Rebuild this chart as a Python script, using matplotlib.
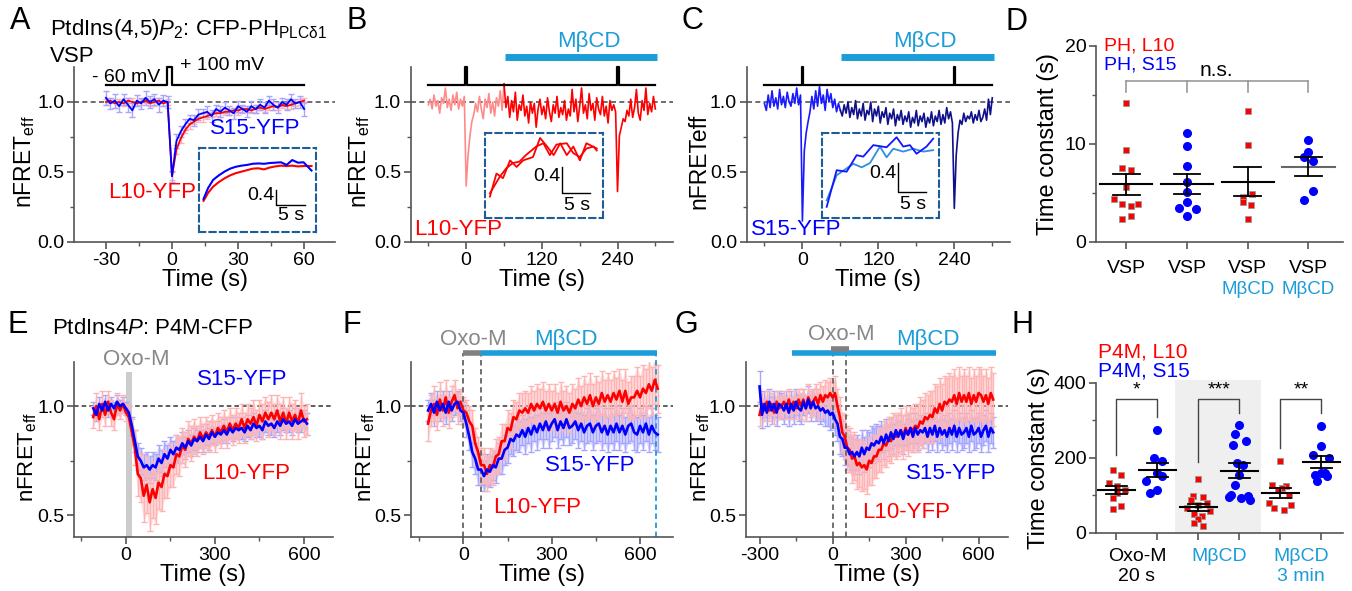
import numpy as np
import matplotlib
matplotlib.use('Agg')
import matplotlib.pyplot as plt

plt.rcParams['font.family'] = ['Liberation Sans', 'DejaVu Sans']
plt.rcParams['mathtext.fontset'] = 'custom'
plt.rcParams['mathtext.rm'] = 'Liberation Sans'
plt.rcParams['mathtext.it'] = 'Liberation Sans:italic'
plt.rcParams['axes.unicode_minus'] = False

RED, BLUE = '#ff0000', '#0000ff'
LRED, LBLUE = '#ffb3b3', '#a6a6ff'
MBCD = '#1b9dd9'
GRAY = '#888888'
AX = '#555555'
BOXC = '#1f5d96'

# ---- panel A: VSP, mean traces (2 s samples from -30 s)
a_blue = [1.03, 0.99, 1.01, 0.97, 1.02, 0.98, 0.94, 1.01, 0.99, 1.03,
          1.00, 1.02, 0.98, 1.01, 1.00, 0.47, 0.72, 0.79, 0.84, 0.88,
          0.87, 0.91, 0.92, 0.93, 0.90, 0.95, 0.93, 0.96, 0.94, 0.92,
          0.97, 0.95, 0.93, 0.97, 0.95, 0.98, 0.96, 1.01, 0.98, 0.96,
          1.00, 0.98, 1.02, 0.99, 1.00, 0.95]
a_blue_sem = [0.05, 0.04, 0.05, 0.04, 0.04, 0.05, 0.05, 0.04, 0.04, 0.05,
              0.04, 0.04, 0.05, 0.04, 0.04, 0.04, 0.05, 0.04, 0.04, 0.03,
              0.04, 0.04, 0.03, 0.04, 0.04, 0.03, 0.04, 0.04, 0.03, 0.04,
              0.04, 0.03, 0.04, 0.04, 0.03, 0.04, 0.04, 0.03, 0.04, 0.04,
              0.03, 0.04, 0.04, 0.03, 0.04, 0.05]
a_red = [1.00, 1.01, 0.99, 1.00, 0.99, 1.01, 1.00, 0.99, 1.00, 1.01,
         0.99, 1.00, 1.01, 0.99, 1.00, 0.47, 0.66, 0.74, 0.80, 0.84,
         0.86, 0.88, 0.89, 0.90, 0.91, 0.92, 0.92, 0.93, 0.93, 0.94,
         0.94, 0.95, 0.95, 0.94, 0.95, 0.96, 0.95, 0.96, 0.97, 0.96,
         0.98, 0.97, 0.98, 0.99, 1.00, 1.01]
a_red_sem = [0.02, 0.02, 0.03, 0.02, 0.02, 0.02, 0.03, 0.02, 0.02, 0.02,
             0.02, 0.03, 0.02, 0.02, 0.02, 0.03, 0.03, 0.03, 0.02, 0.03,
             0.02, 0.02, 0.03, 0.02, 0.02, 0.02, 0.03, 0.02, 0.02, 0.02,
             0.03, 0.02, 0.02, 0.02, 0.03, 0.02, 0.02, 0.02, 0.03, 0.02,
             0.02, 0.02, 0.03, 0.02, 0.02, 0.02]
insA_t = [0.8, 1.6, 2.5, 3.5, 4.5, 5.5, 6.5, 7.5, 8.5, 9.5,
          10.5, 11.5, 12.5, 13.5, 14.5, 15.5, 16.5, 17.5, 18.5, 19.9]
insA_blue = [0.89, 1.18, 1.40, 1.52, 1.62, 1.70, 1.75, 1.78, 1.80, 1.83,
             1.84, 1.83, 1.85, 1.86, 1.87, 1.80, 1.93, 1.86, 1.87, 1.65]
insA_red = [0.84, 1.05, 1.22, 1.34, 1.44, 1.52, 1.58, 1.62, 1.66, 1.70,
            1.71, 1.68, 1.73, 1.76, 1.78, 1.77, 1.78, 1.76, 1.77, 1.77]

# ---- panels B, C: single cells (3 s samples from -60 s)
b_red = [0.98, 1.02, 0.95, 1.05, 0.97, 1.01, 0.92, 1.03, 0.99, 1.10,
         0.96, 1.02, 0.94, 1.05, 0.98, 1.07, 0.95, 1.02, 0.97, 1.04,
         0.40, 0.62, 0.76, 0.86, 0.91, 0.99, 0.93, 1.04, 0.95, 0.88,
         1.02, 0.96, 1.06, 0.92, 1.00, 0.90, 1.03, 0.97, 1.08, 0.94,
         1.13, 0.96, 1.04, 0.89, 1.01, 0.93, 1.07, 0.87, 0.98, 0.94,
         1.05, 0.90, 0.97, 0.85, 1.00, 0.92, 0.99, 0.82, 0.95, 1.02,
         0.91, 0.97, 0.88, 1.03, 0.93, 0.86, 0.98, 0.92, 1.04, 0.89,
         0.96, 0.91, 1.01, 0.87, 0.95, 0.90, 1.09, 0.93, 1.02, 0.86,
         0.97, 1.10, 0.92, 0.98, 0.88, 1.06, 0.94, 0.99, 0.87, 1.03,
         0.95, 0.91, 1.04, 0.90, 0.97, 0.85, 1.01, 0.94, 0.98, 0.93,
         0.36, 0.76, 0.82, 0.88, 0.86, 0.94, 0.90, 1.02, 0.89, 0.96,
         1.09, 0.92, 0.87, 1.01, 0.94, 1.10, 0.91, 0.99, 0.93, 1.04,
         0.95]
c_blue = [0.99, 0.94, 1.05, 0.96, 1.08, 0.97, 1.03, 0.95, 1.09, 0.98,
          1.04, 0.96, 1.07, 1.00, 0.97, 1.06, 0.99, 1.10, 0.98, 1.05,
          0.15, 0.65, 0.78, 0.86, 0.93, 1.04, 0.95, 1.08, 0.97, 1.11,
          0.99, 1.05, 0.94, 1.09, 1.00, 1.06, 0.96, 1.02, 0.93, 0.99,
          0.94, 0.90, 0.98, 0.92, 1.00, 0.89, 0.96, 0.91, 1.01, 0.88,
          0.95, 0.90, 0.99, 0.87, 0.94, 0.91, 1.00, 0.86, 0.95, 0.90,
          0.97, 0.85, 0.93, 0.89, 0.96, 0.84, 0.92, 0.88, 0.95, 0.83,
          0.91, 0.87, 0.94, 0.84, 0.90, 0.86, 0.93, 0.82, 0.89, 0.85,
          0.94, 0.83, 0.90, 0.86, 0.92, 0.82, 0.89, 0.85, 0.93, 0.83,
          0.90, 0.86, 0.94, 0.84, 0.91, 0.85, 0.96, 0.88, 0.93, 0.85,
          0.24, 0.62, 0.78, 0.87, 0.84, 0.92, 0.86, 0.90, 0.88, 0.93,
          0.85, 0.91, 0.87, 0.94, 0.86, 0.89, 0.95, 0.87, 1.02, 0.91,
          1.03]
mbcd_on = 60
insB_t1 = [0.9, 2.1, 3.3, 4.6, 5.8, 7.0, 8.8, 10.1, 11.4, 12.6, 13.8, 15.0, 16.2, 17.4, 18.6, 20.5]
insB_v1 = [0.32, 0.67, 0.60, 0.87, 0.77, 0.87, 0.92, 1.21, 1.08, 0.95, 1.13, 0.95, 1.08, 0.87, 1.13, 1.05]
insB_t2 = [0.9, 2.7, 3.9, 5.1, 6.3, 7.5, 9.4, 10.7, 11.9, 13.1, 15.0, 16.2, 17.4, 18.6, 19.9, 20.5]
insB_v2 = [0.37, 0.62, 0.75, 0.83, 0.85, 0.95, 1.08, 1.13, 0.95, 1.11, 1.13, 0.98, 0.92, 1.05, 1.08, 1.02]
insC_t1 = [0.9, 2.7, 4.5, 6.3, 7.5, 9.3, 11.7, 13.5, 14.7, 15.9, 17.1, 18.9, 20.1]
insC_v1 = [0.16, 0.67, 0.65, 0.88, 0.86, 1.02, 0.99, 1.13, 1.00, 1.02, 0.90, 1.00, 1.11]
insC_t2 = [0.9, 2.7, 5.7, 7.2, 8.7, 10.5, 11.7, 12.9, 14.7, 16.5, 18.3, 20.1]
insC_v2 = [0.25, 0.60, 0.76, 0.71, 0.77, 1.00, 0.85, 0.97, 0.93, 0.97, 0.93, 0.95]

# ---- panel D: time constants (s)
d_groups = ['VSP', 'VSP', 'VSP', 'VSP']
d_vals = [[14.2, 9.4, 7.5, 7.3, 5.6, 4.4, 3.9, 3.6, 3.9, 2.6, 2.3],
          [11.1, 9.8, 7.7, 6.1, 5.1, 4.1, 3.4, 3.3, 2.6],
          [13.4, 9.9, 4.9, 4.6, 4.1, 3.7, 2.3],
          [10.4, 9.2, 8.7, 8.2, 5.2, 4.3]]
d_is_l10 = [True, False, True, False]

# ---- panel E: Oxo-M (10 s samples from -110 s)
e_red = [0.95, 1.00, 0.94, 1.01, 0.96, 1.02, 0.97, 0.94, 1.01, 0.98,
         1.01, 0.97, 0.95, 0.88, 0.81, 0.69, 0.67, 0.59, 0.64, 0.56,
         0.62, 0.58, 0.65, 0.63, 0.69, 0.68, 0.73, 0.72, 0.78, 0.77,
         0.82, 0.80, 0.85, 0.83, 0.86, 0.84, 0.88, 0.85, 0.88, 0.86,
         0.89, 0.86, 0.90, 0.88, 0.91, 0.88, 0.92, 0.89, 0.92, 0.90,
         0.94, 0.90, 0.94, 0.92, 0.95, 0.91, 0.96, 0.93, 0.97, 0.94,
         0.97, 0.94, 0.98, 0.93, 0.97, 0.92, 0.97, 0.93, 0.96, 0.92,
         0.98, 0.93, 0.94]
e_red_sem = [0.05, 0.06, 0.05, 0.06, 0.05, 0.05, 0.06, 0.05, 0.05, 0.04,
             0.04, 0.04, 0.05, 0.06, 0.08, 0.10, 0.11, 0.12, 0.13, 0.13,
             0.13, 0.12, 0.12, 0.11, 0.11, 0.10, 0.10, 0.09, 0.09, 0.09,
             0.08, 0.08, 0.08, 0.08, 0.08, 0.07, 0.07, 0.07, 0.07, 0.07,
             0.07, 0.07, 0.07, 0.07, 0.07, 0.07, 0.07, 0.07, 0.07, 0.07,
             0.07, 0.07, 0.07, 0.07, 0.08, 0.07, 0.07, 0.08, 0.07, 0.08,
             0.08, 0.07, 0.07, 0.08, 0.07, 0.07, 0.07, 0.08, 0.07, 0.07,
             0.08, 0.07, 0.07]
e_blue = [0.99, 0.96, 1.01, 0.98, 1.02, 0.98, 1.01, 0.99, 1.02, 1.00,
          1.01, 0.99, 0.97, 0.91, 0.84, 0.77, 0.75, 0.72, 0.73, 0.71,
          0.73, 0.72, 0.76, 0.74, 0.78, 0.76, 0.80, 0.78, 0.81, 0.80,
          0.83, 0.81, 0.84, 0.82, 0.85, 0.84, 0.86, 0.84, 0.87, 0.85,
          0.88, 0.86, 0.88, 0.87, 0.89, 0.87, 0.90, 0.88, 0.90, 0.89,
          0.90, 0.88, 0.91, 0.89, 0.92, 0.90, 0.91, 0.89, 0.93, 0.91,
          0.92, 0.90, 0.93, 0.91, 0.94, 0.92, 0.93, 0.91, 0.94, 0.92,
          0.93, 0.94, 0.92]
e_blue_sem = [0.03, 0.03, 0.03, 0.03, 0.03, 0.03, 0.03, 0.03, 0.03, 0.03,
              0.03, 0.03, 0.03, 0.04, 0.05, 0.06, 0.06, 0.06, 0.06, 0.06,
              0.06, 0.06, 0.06, 0.06, 0.06, 0.06, 0.06, 0.06, 0.06, 0.06,
              0.05, 0.05, 0.05, 0.05, 0.05, 0.05, 0.05, 0.05, 0.05, 0.05,
              0.05, 0.04, 0.05, 0.04, 0.05, 0.04, 0.05, 0.04, 0.05, 0.04,
              0.05, 0.04, 0.05, 0.04, 0.05, 0.04, 0.05, 0.04, 0.05, 0.04,
              0.05, 0.04, 0.05, 0.04, 0.05, 0.04, 0.05, 0.04, 0.05, 0.04,
              0.05, 0.04, 0.05]

# ---- panel F: Oxo-M then MbCD (10 s samples from -120 s)
f_red = [0.92, 0.98, 1.01, 0.96, 1.03, 0.98, 1.04, 0.97, 1.02, 1.05,
         0.99, 1.02, 0.98, 0.97, 0.93, 0.91, 0.83, 0.79, 0.73, 0.73,
         0.69, 0.73, 0.72, 0.77, 0.78, 0.84, 0.84, 0.90, 0.89, 0.95,
         0.94, 0.98, 0.97, 0.99, 0.97, 1.01, 0.98, 1.01, 0.99, 1.02,
         0.98, 1.01, 0.98, 1.01, 0.97, 1.02, 0.98, 1.00, 0.97, 1.01,
         0.99, 1.03, 1.00, 1.04, 1.01, 1.05, 1.00, 1.04, 1.01, 1.06,
         1.02, 1.05, 1.02, 1.06, 1.03, 1.07, 1.02, 1.07, 1.01, 1.04,
         1.04, 1.07, 1.04, 1.08, 1.06, 1.10, 1.07, 1.12, 1.08]
f_red_sem = [0.08, 0.07, 0.08, 0.07, 0.08, 0.07, 0.08, 0.07, 0.07, 0.07,
             0.07, 0.06, 0.06, 0.06, 0.07, 0.07, 0.07, 0.07, 0.08, 0.08,
             0.08, 0.08, 0.08, 0.08, 0.08, 0.08, 0.08, 0.08, 0.08, 0.08,
             0.08, 0.08, 0.09, 0.08, 0.09, 0.08, 0.09, 0.09, 0.09, 0.09,
             0.09, 0.09, 0.09, 0.09, 0.09, 0.09, 0.09, 0.09, 0.09, 0.09,
             0.09, 0.10, 0.09, 0.10, 0.09, 0.10, 0.10, 0.10, 0.10, 0.10,
             0.10, 0.10, 0.10, 0.10, 0.10, 0.10, 0.10, 0.10, 0.10, 0.10,
             0.10, 0.11, 0.10, 0.11, 0.11, 0.11, 0.11, 0.11, 0.11]
f_blue = [0.98, 1.01, 0.97, 1.02, 0.98, 1.01, 0.97, 1.02, 0.98, 1.01,
          1.02, 0.98, 0.97, 0.92, 0.86, 0.79, 0.76, 0.71, 0.71, 0.68,
          0.71, 0.70, 0.73, 0.72, 0.76, 0.76, 0.80, 0.81, 0.85, 0.84,
          0.87, 0.86, 0.89, 0.86, 0.90, 0.87, 0.91, 0.88, 0.92, 0.89,
          0.93, 0.89, 0.92, 0.94, 0.89, 0.93, 0.90, 0.94, 0.90, 0.91,
          0.93, 0.89, 0.92, 0.88, 0.91, 0.92, 0.88, 0.91, 0.92, 0.88,
          0.91, 0.87, 0.91, 0.88, 0.92, 0.88, 0.91, 0.87, 0.91, 0.92,
          0.88, 0.87, 0.91, 0.88, 0.92, 0.87, 0.91, 0.88, 0.87]
f_blue_sem = [0.05, 0.05, 0.06, 0.05, 0.05, 0.06, 0.05, 0.05, 0.05, 0.05,
              0.05, 0.05, 0.05, 0.06, 0.06, 0.07, 0.07, 0.07, 0.07, 0.07,
              0.07, 0.07, 0.07, 0.07, 0.07, 0.07, 0.07, 0.07, 0.07, 0.07,
              0.07, 0.07, 0.07, 0.08, 0.07, 0.08, 0.07, 0.08, 0.07, 0.08,
              0.08, 0.08, 0.08, 0.08, 0.08, 0.08, 0.08, 0.08, 0.08, 0.08,
              0.08, 0.08, 0.08, 0.08, 0.08, 0.08, 0.08, 0.08, 0.08, 0.08,
              0.08, 0.08, 0.08, 0.08, 0.08, 0.08, 0.08, 0.08, 0.08, 0.08,
              0.08, 0.08, 0.08, 0.08, 0.08, 0.08, 0.08, 0.08, 0.08]

# ---- panel G: MbCD 3 min before Oxo-M (10 s samples from -300 s)
g_red = [0.96, 1.01, 0.98, 1.02, 0.98, 1.01, 0.97, 1.02, 0.99, 1.00,
         1.02, 0.99, 1.03, 0.99, 1.02, 0.99, 1.03, 1.00, 1.03, 0.99,
         1.04, 1.01, 1.02, 1.04, 1.01, 1.05, 1.02, 1.05, 1.04, 1.06,
         1.04, 1.06, 1.00, 0.95, 0.88, 0.86, 0.81, 0.80, 0.76, 0.77,
         0.73, 0.74, 0.72, 0.73, 0.71, 0.75, 0.74, 0.77, 0.77, 0.80,
         0.80, 0.83, 0.82, 0.85, 0.84, 0.87, 0.86, 0.87, 0.89, 0.86,
         0.90, 0.87, 0.90, 0.89, 0.91, 0.90, 0.93, 0.92, 0.95, 0.94,
         0.96, 0.95, 0.99, 0.97, 1.01, 0.98, 1.02, 1.01, 1.03, 1.02,
         1.05, 1.01, 1.06, 1.02, 1.05, 1.02, 1.06, 1.01, 1.05, 1.02,
         1.06, 1.05, 1.02, 1.05, 1.01, 1.06, 1.03]
g_red_sem = [0.05, 0.05, 0.05, 0.05, 0.05, 0.05, 0.05, 0.05, 0.05, 0.05,
             0.05, 0.05, 0.05, 0.05, 0.05, 0.05, 0.05, 0.06, 0.05, 0.06,
             0.06, 0.06, 0.06, 0.06, 0.07, 0.06, 0.07, 0.07, 0.07, 0.07,
             0.07, 0.08, 0.08, 0.09, 0.09, 0.10, 0.10, 0.10, 0.11, 0.11,
             0.11, 0.11, 0.11, 0.11, 0.11, 0.11, 0.10, 0.10, 0.10, 0.10,
             0.10, 0.10, 0.10, 0.10, 0.10, 0.10, 0.10, 0.10, 0.10, 0.10,
             0.10, 0.10, 0.10, 0.10, 0.10, 0.11, 0.11, 0.11, 0.11, 0.11,
             0.11, 0.12, 0.11, 0.12, 0.12, 0.12, 0.12, 0.12, 0.12, 0.12,
             0.12, 0.12, 0.12, 0.12, 0.12, 0.12, 0.12, 0.12, 0.12, 0.12,
             0.12, 0.12, 0.12, 0.12, 0.12, 0.12, 0.12]
g_blue = [1.09, 0.96, 1.01, 0.97, 1.02, 0.98, 1.01, 0.97, 1.01, 1.00,
          0.98, 1.01, 0.97, 1.01, 0.98, 1.02, 0.99, 0.98, 1.02, 0.99,
          1.03, 0.99, 1.02, 0.99, 1.00, 0.98, 0.99, 0.97, 0.98, 0.96,
          0.97, 0.94, 0.92, 0.86, 0.85, 0.81, 0.81, 0.78, 0.79, 0.77,
          0.79, 0.77, 0.81, 0.78, 0.81, 0.80, 0.83, 0.82, 0.84, 0.83,
          0.86, 0.83, 0.87, 0.84, 0.88, 0.85, 0.89, 0.86, 0.89, 0.85,
          0.89, 0.87, 0.90, 0.86, 0.90, 0.87, 0.89, 0.88, 0.90, 0.86,
          0.90, 0.87, 0.91, 0.86, 0.90, 0.87, 0.89, 0.86, 0.90, 0.87,
          0.91, 0.86, 0.90, 0.87, 0.88, 0.90, 0.86, 0.91, 0.87, 0.88,
          0.90, 0.86, 0.89, 0.91, 0.86, 0.90, 0.88]
g_blue_sem = [0.07, 0.06, 0.06, 0.06, 0.06, 0.06, 0.06, 0.06, 0.06, 0.06,
              0.06, 0.06, 0.06, 0.06, 0.06, 0.06, 0.06, 0.06, 0.06, 0.06,
              0.06, 0.06, 0.06, 0.06, 0.06, 0.06, 0.06, 0.06, 0.07, 0.07,
              0.07, 0.07, 0.08, 0.08, 0.08, 0.08, 0.08, 0.08, 0.08, 0.08,
              0.08, 0.08, 0.08, 0.08, 0.08, 0.08, 0.08, 0.08, 0.08, 0.08,
              0.07, 0.07, 0.07, 0.07, 0.07, 0.07, 0.07, 0.07, 0.07, 0.07,
              0.07, 0.07, 0.07, 0.07, 0.07, 0.07, 0.07, 0.07, 0.07, 0.07,
              0.07, 0.07, 0.07, 0.07, 0.07, 0.07, 0.07, 0.07, 0.07, 0.07,
              0.07, 0.07, 0.07, 0.07, 0.07, 0.07, 0.07, 0.07, 0.07, 0.07,
              0.07, 0.07, 0.07, 0.07, 0.07, 0.07, 0.07]

# ---- panel H: time constants (s)
h_vals = [[167, 153, 133, 125, 115, 105, 92, 71, 62],
          [274, 198, 190, 160, 150, 138, 115, 107],
          [144, 98, 96, 88, 80, 74, 66, 58, 50, 45, 36, 27, 19],
          [287, 264, 245, 234, 187, 180, 154, 128, 100, 98, 96, 92, 88],
          [190, 128, 124, 120, 114, 100, 80, 75, 66, 60],
          [285, 232, 208, 198, 160, 155, 150, 138, 160]]
h_stars = ['*', '***', '**']
h_conditions = ['Oxo-M\n20 s', 'M\u03b2CD', 'M\u03b2CD\n3 min']

# point scatter offsets within a group (layout only)
jit_D = [[0, 0, -0.07, 0.07, 0, -0.21, -0.07, 0.07, 0.19, 0.07, -0.07],
         [0, 0, 0, 0, 0, 0, -0.14, 0.14, 0],
         [0, 0, 0.07, -0.07, -0.08, 0.055, 0],
         [0, 0, -0.07, 0.07, 0.07, -0.07]]
jit_H = [[-0.08, 0.11, -0.18, 0.02, 0.2, 0.02, -0.08, 0.11, -0.08],
         [0, -0.09, 0.1, 0, 0.1, -0.27, 0, -0.19],
         [0, -0.12, 0.1, -0.17, 0.2, 0, -0.28, 0.28, -0.1, 0.08, 0, -0.1, 0.1],
         [0, -0.1, 0.15, -0.15, -0.05, 0.1, 0, -0.1, -0.2, 0.2, -0.25, 0.05, 0.25],
         [0, -0.2, 0.15, 0.05, -0.05, 0.2, -0.27, 0.27, -0.15, 0.1],
         [0, 0, -0.2, 0.2, 0, -0.15, 0.15, -0.1, 0.1]]

W, H = 1352, 591
fig = plt.figure(figsize=(W / 100, H / 100), dpi=100)


def box(l, t, r, b):
    return fig.add_axes([l / W, 1 - b / H, (r - l) / W, (b - t) / H])


def ftext(x, y, s, **kw):
    kw.setdefault('ha', 'center')
    kw.setdefault('va', 'center')
    fig.text(x / W, 1 - y / H, s, **kw)


def style(ax):
    for s in ['top', 'right']:
        ax.spines[s].set_visible(False)
    for s in ['left', 'bottom']:
        ax.spines[s].set_color(AX)
        ax.spines[s].set_linewidth(1.2)
    ax.tick_params(which='both', direction='out', color=AX, labelsize=14)
    ax.tick_params(which='major', length=5, width=1.2, pad=2)
    ax.tick_params(which='minor', length=3, width=1)
    ax.patch.set_alpha(0)


def ylab(ax, text, xpx, l, r, yfrac=0.5, size=17):
    ax.set_ylabel(text, fontsize=size)
    ax.yaxis.set_label_coords((xpx - l) / (r - l), yfrac)


def yfmt(ax, ticks, fmt, minor):
    ax.set_yticks(ticks)
    ax.set_yticklabels([fmt % v for v in ticks])
    ax.set_yticks(minor, minor=True)


def protocol(ax, t0, t1, onsets, width, base, top):
    xs, ys = [t0], [base]
    for o in onsets:
        xs += [o, o, o + width, o + width]
        ys += [base, top, top, base]
    xs.append(t1)
    ys.append(base)
    ax.plot(xs, ys, color='k', lw=1.6, clip_on=False, zorder=5)


def inset(l, t, r, b, xmax, ymax, sx, sy):
    ax = box(l, t, r, b)
    ax.set_xlim(0, xmax)
    ax.set_ylim(0, ymax)
    ax.set_xticks([])
    ax.set_yticks([])
    ax.patch.set_alpha(0)
    for s in ax.spines.values():
        s.set_linestyle((0, (3, 2)))
        s.set_color(BOXC)
        s.set_linewidth(1.5)
    ax.plot([sx, sx, sx + 5], [sy + 0.4, sy, sy], color='k', lw=1)
    ax.text(sx - 0.3, sy + 0.25, '0.4', ha='right', va='center', fontsize=14)
    ax.text(sx + 2.6, sy - 0.06, '5 s', ha='center', va='top', fontsize=14)
    return ax


def trace(ax, t, red, red_sem, blue, blue_sem):
    t = np.asarray(t)
    for y, e, c in [(blue, blue_sem, LBLUE), (red, red_sem, LRED)]:
        y, e = np.asarray(y), np.asarray(e)
        ax.fill_between(t, y - e, y + e, color=c, alpha=0.45, lw=0, zorder=1)
        ax.errorbar(t, y, yerr=e, fmt='none', ecolor=c, elinewidth=1,
                    capsize=2, capthick=1, zorder=1)
    ax.plot(t, red, color=RED, lw=1.9, zorder=3)
    ax.plot(t, blue, color=BLUE, lw=1.9, zorder=4)


# ================= A
axA = box(74, 67, 335, 242)
style(axA)
tA = -30 + 2 * np.arange(len(a_blue))
axA.set_xlim(-44.5, 74)
axA.set_ylim(0, 1.25)
axA.set_xticks([-30, 0, 30, 60])
axA.set_xticks([-15, 15, 45], minor=True)
yfmt(axA, [0, 0.5, 1.0], '%.1f', [0.25, 0.75])
axA.axhline(1.0, ls=(0, (3, 2)), color=AX, lw=1.2, zorder=0)
axA.errorbar(tA, a_red, yerr=a_red_sem, color=RED, ecolor=LRED, lw=1.3, elinewidth=1, capsize=2)
axA.errorbar(tA, a_blue, yerr=a_blue_sem, color=BLUE, ecolor=LBLUE, lw=1.3, elinewidth=1, capsize=2)
protocol(axA, -30, 60, [-2.4], 2.3, 1.12, 1.25)
axA.set_xlabel('Time (s)', fontsize=17, labelpad=0)
ylab(axA, 'nFRET$_{\\mathrm{eff}}$', 37, 74, 335, 0.46, 16.5)
axA.text(37.7, 0.814, 'S15-YFP', color=BLUE, fontsize=16, ha='center', va='center')
axA.text(-9.2, 0.35, 'L10-YFP', color=RED, fontsize=16, ha='center', va='center')
iA = inset(199, 147.7, 316, 232.3, 20.7, 2.26, 13.7, 0.73)
iA.plot(insA_t, insA_red, color=RED, lw=1.5)
iA.plot(insA_t, insA_blue, color=BLUE, lw=1.5)
ftext(20, 21, 'A', fontsize=22)
ftext(50, 30, 'PtdIns(4,5)$\\mathit{P}_2$: CFP-PH$_{\\mathrm{PLC\u03b41}}$', fontsize=16, ha='left')
ftext(50, 56, 'VSP', fontsize=16, ha='left')
ftext(92, 77, '- 60 mV', fontsize=14, ha='left')
ftext(180, 65, '+ 100 mV', fontsize=14, ha='left')

# ================= B and C
for key, lpx, rpx, vals, pre_c, post_c, lab, lab_c, ylbl, lbx, lx, ins, pulses, pw in [
        ('B', 410.7, 673, b_red, '#ff8a8a', RED, 'L10-YFP', RED,
         'nFRET$_{\\mathrm{eff}}$', 372, -13.5,
         (485, 132.7, 603.3, 217.7, 21.7, 1.29, 14.2, 0.375), [-2, 239], 3),
        ('C', 746.7, 1010, c_blue, '#1a1aff', '#10108a', 'S15-YFP', BLUE,
         'nFRETeff', 710, -10.4,
         (821.7, 133.3, 939.3, 218.3, 21.2, 1.185, 13.8, 0.37), [-1, 239], 2)]:
    ax = box(lpx, 67, rpx, 242)
    style(ax)
    t = -60 + 3 * np.arange(len(vals))
    v = np.array(vals)
    ax.set_xlim(-88, 328)
    ax.set_ylim(0, 1.25)
    ax.set_xticks([0, 120, 240])
    ax.set_xticks([-60, 60, 180, 300], minor=True)
    yfmt(ax, [0, 0.5, 1.0], '%.1f', [0.25, 0.75])
    ax.axhline(1.0, ls=(0, (3, 2)), color=AX, lw=1.2, zorder=0)
    pre = t <= mbcd_on
    ax.plot(t[pre], v[pre], color=pre_c, lw=1.2)
    ax.plot(t[t >= mbcd_on], v[t >= mbcd_on], color=post_c, lw=1.2)
    protocol(ax, -61, 300, pulses, pw, 1.12, 1.25)
    ax.plot([mbcd_on + 1, 302], [1.32, 1.32], color=MBCD, lw=5, solid_capstyle='butt', clip_on=False)
    ax.text(194, 1.43, 'M\u03b2CD', color=MBCD, fontsize=16, ha='center', va='center')
    ax.set_xlabel('Time (s)', fontsize=17, labelpad=0)
    ylab(ax, ylbl, lbx, lpx, rpx, 0.46, 16.5)
    ax.text(lx, 0.09, lab, color=lab_c, fontsize=16, ha='center', va='center')
    ftext(lpx - 54, 21, key, fontsize=22)
    ins_ax = inset(*ins)
    if key == 'B':
        ins_ax.plot(insB_t1, insB_v1, color=RED, lw=1.3)
        ins_ax.plot(insB_t2, insB_v2, color=RED, lw=1.3)
    else:
        ins_ax.plot(insC_t2, insC_v2, color='#2e8fdc', lw=1.3)
        ins_ax.plot(insC_t1, insC_v1, color='#1414ff', lw=1.3)

# ================= D
axD = box(1096, 46, 1343, 241.7)
style(axD)
axD.set_xlim(-0.5, 3.57)
axD.set_ylim(0, 20)
axD.set_xticks(range(len(d_groups)))
axD.set_xticklabels(d_groups, fontsize=14)
axD.tick_params(axis='x', which='major', pad=8)
axD.set_yticks([0, 10, 20])
axD.set_yticks([5, 15], minor=True)
for i, vals in enumerate(d_vals):
    x = i + np.array(jit_D[i])
    if d_is_l10[i]:
        axD.plot(x, vals, 's', ms=5, color=RED, mec='#999999', mew=0.6, zorder=3)
    else:
        axD.plot(x, vals, 'o', ms=5.5, color=BLUE, mec=BLUE, zorder=3)
    m = np.mean(vals)
    se = np.std(vals, ddof=1) / np.sqrt(len(vals))
    c = '#666666' if i == 3 else 'k'
    axD.plot([i - 0.43, i + 0.43], [m, m], color=c, lw=1.5, zorder=4)
    axD.plot([i - 0.22, i + 0.22], [m + se, m + se], color='k', lw=1.3, zorder=4)
    axD.plot([i - 0.22, i + 0.22], [m - se, m - se], color='k', lw=1.3, zorder=4)
    axD.plot([i, i], [m - se, m + se], color='k', lw=1.3, zorder=4)
axD.plot([0, 3], [16.4, 16.4], color='#999999', lw=1.2)
for i in range(4):
    axD.plot([i, i], [15.25, 16.4], color='#999999', lw=1.2)
axD.text(1.49, 17.5, 'n.s.', fontsize=15, ha='center', va='center')
axD.text(-0.37, 20.0, 'PH, L10', color=RED, fontsize=14, ha='left', va='center', clip_on=False)
axD.text(-0.37, 18.05, 'PH, S15', color=BLUE, fontsize=14, ha='left', va='center', clip_on=False)
for i in [2, 3]:
    axD.text(i, -0.243, 'M\u03b2CD', transform=axD.get_xaxis_transform(), color=MBCD,
             fontsize=13.5, ha='center', va='center')
ylab(axD, 'Time constant (s)', 1059, 1096, 1343)
ftext(1017, 22, 'D', fontsize=22)

# ================= E, F, G
panels = [
    ('E', 74, 333, -110, e_red, e_red_sem, e_blue, e_blue_sem, (-175, 698), [0, 300, 600], [-150, 150, 450],
     39, (391, 1.124), (404, 0.694)),
    ('F', 411, 673.3, -120, f_red, f_red_sem, f_blue, f_blue_sem, (-178, 713), [0, 300, 600], [-150, 150, 450],
     377, (430, 0.73), (249, 0.538)),
    ('G', 745.7, 1008.3, -300, g_red, g_red_sem, g_blue, g_blue_sem, (-357, 722), [-300, 0, 300, 600],
     [-150, 150, 450], 712, (489, 0.69), (304, 0.515)),
]
for key, lpx, rpx, t0, r, rs, b, bs, xl, xt, xm, lbx, s15pos, l10pos in panels:
    ax = box(lpx, 362.4, rpx, 537.3)
    style(ax)
    t = t0 + 10 * np.arange(len(r))
    ax.set_xlim(*xl)
    ax.set_ylim(0.4, 1.2)
    ax.set_xticks(xt)
    ax.set_xticks(xm, minor=True)
    yfmt(ax, [0.5, 1.0], '%.1f', [0.75])
    ax.axhline(1.0, ls=(0, (3, 2)), color='#333333', lw=1.1, zorder=0)
    trace(ax, t, r, rs, b, bs)
    ax.set_xlabel('Time (s)', fontsize=17, labelpad=0)
    ylab(ax, 'nFRET$_{\\mathrm{eff}}$', lbx, lpx, rpx, 0.46, 16)
    ax.text(*s15pos, 'S15-YFP', color=BLUE, fontsize=16, ha='center', va='center')
    ax.text(*l10pos, 'L10-YFP', color=RED, fontsize=16, ha='center', va='center')
    if key == 'E':
        ax.fill_between([0, 20], [0.4, 0.4], [1.157, 1.157], color='#cccccc', lw=0, zorder=0)
        ax.text(34, 1.211, 'Oxo-M', color=GRAY, fontsize=16, ha='center', va='center', clip_on=False)
        ftext(18, 325, 'E', fontsize=22)
        ftext(52, 328, 'PtdIns4$\\mathit{P}$: P4M-CFP', fontsize=16, ha='left')
    elif key == 'F':
        for xv in [0, 59]:
            ax.plot([xv, xv], [0.4, 1.242], ls=(0, (3, 2)), color='#666666', lw=1.3, clip_on=False)
        ax.plot([654, 654], [0.4, 1.242], ls=(0, (3, 2)), color=MBCD, lw=1.3, clip_on=False)
        ax.plot([0, 59], [1.242, 1.242], color='#808080', lw=4, solid_capstyle='butt', clip_on=False)
        ax.plot([59, 656], [1.242, 1.242], color=MBCD, lw=4, solid_capstyle='butt', clip_on=False)
        ax.text(33, 1.307, 'Oxo-M', color=GRAY, fontsize=16, ha='center', va='center')
        ax.text(348, 1.307, 'M\u03b2CD', color=MBCD, fontsize=16, ha='center', va='center')
        ftext(352, 325, 'F', fontsize=22)
    else:
        for xv in [0, 57]:
            ax.plot([xv, xv], [0.4, 1.24], ls=(0, (3, 2)), color='#666666', lw=1.3, clip_on=False)
        ax.plot([-168, 671], [1.242, 1.242], color=MBCD, lw=4, solid_capstyle='butt', clip_on=False)
        ax.plot([-7, 67], [1.262, 1.262], color='#808080', lw=4, solid_capstyle='butt', clip_on=False)
        ax.text(34, 1.326, 'Oxo-M', color=GRAY, fontsize=16, ha='center', va='center')
        ax.text(393, 1.307, 'M\u03b2CD', color=MBCD, fontsize=16, ha='center', va='center')
        ftext(686, 325, 'G', fontsize=22)

# ================= H
axH = box(1096, 382.7, 1343, 532.7)
style(axH)
axH.set_xlim(-0.5, 5.53)
axH.set_ylim(0, 400)
axH.set_xticks(range(6))
axH.set_xticklabels([''] * 6)
axH.set_yticks([0, 200, 400])
axH.set_yticks([100, 300], minor=True)
shade = axH.axvspan(1.42, 3.54, ymin=0, ymax=1.02, color='#efefef', lw=0, zorder=0)
shade.set_clip_on(False)
for i, vals in enumerate(h_vals):
    x = i + np.array(jit_H[i])
    if i % 2 == 0:
        axH.plot(x, vals, 's', ms=5, color=RED, mec='#999999', mew=0.6, zorder=3)
    else:
        axH.plot(x, vals, 'o', ms=5.5, color=BLUE, mec=BLUE, zorder=3)
    m = np.mean(vals)
    se = np.std(vals, ddof=1) / np.sqrt(len(vals))
    axH.plot([i - 0.45, i + 0.45], [m, m], color='k', lw=1.5, zorder=4)
    axH.plot([i - 0.25, i + 0.25], [m + se, m + se], color='k', lw=1.3, zorder=4)
    axH.plot([i - 0.25, i + 0.25], [m - se, m - se], color='k', lw=1.3, zorder=4)
    axH.plot([i, i], [m - se, m + se], color='k', lw=1.3, zorder=4)
legs = [(207, 309), (189, 320), (225, 320)]
for k, (lo_l, lo_r) in enumerate(legs):
    i = 2 * k
    axH.plot([i, i, i + 1, i + 1], [lo_l, 356, 356, lo_r], color='#444444', lw=1)
    axH.text(i + 0.5, 380, h_stars[k], fontsize=14, ha='center', va='center')
    col = 'k' if k == 0 else MBCD
    axH.text(i + 0.5, -0.1, h_conditions[k], transform=axH.get_xaxis_transform(), color=col,
             fontsize=14, ha='center', va='top', linespacing=1.25)
axH.text(-0.46, 482, 'P4M, L10', color=RED, fontsize=15, ha='left', va='center', clip_on=False)
axH.text(-0.46, 430, 'P4M, S15', color=BLUE, fontsize=15, ha='left', va='center', clip_on=False)
ylab(axH, 'Time constant (s)', 1050, 1096, 1343)
ftext(1022, 325, 'H', fontsize=22)

fig.savefig('out.png', dpi=100)
